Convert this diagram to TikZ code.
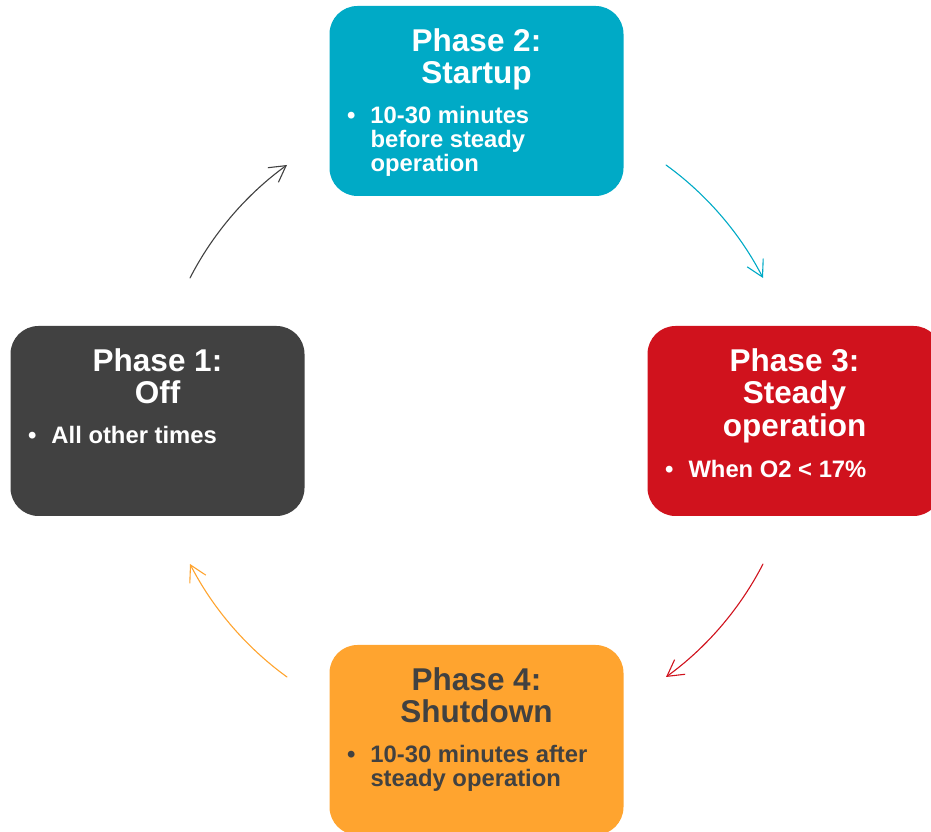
\documentclass[tikz,border=0pt]{standalone}
\usepackage{fontspec}
\setmainfont{Liberation Sans}
\usetikzlibrary{positioning,arrows.meta}
\definecolor{offgray}{HTML}{414141}
\definecolor{startteal}{HTML}{00AAC6}
\definecolor{steadyred}{HTML}{D0121D}
\definecolor{shutorange}{HTML}{FFA42F}
\tikzset{
	phase/.style={rounded corners=28pt,minimum width=294pt,minimum height=190pt,inner sep=0pt},
	phasetitle/.style={inner sep=0pt,align=center,font=\bfseries\fontsize{31.5}{32.5}\selectfont},
	phaseitem/.style={inner sep=0pt,align=left,font=\bfseries\fontsize{23.8}{24.2}\selectfont},
	cycle/.style={line width=1.1pt,line cap=round,-{Straight Barb[length=16pt,width=18pt]}}
}
\newcommand{\bul}{\llap{\textbullet\hspace{15pt}}}
\begin{document}
\begin{tikzpicture}[x=1pt,y=1pt]
		\useasboundingbox (0,0) rectangle (931,832);
		\node[phase,fill=offgray] (off) at (157.5,411) {};
		\node[phase,fill=startteal] (start) at (476.5,731) {};
		\node[phase,fill=steadyred] (steady) at (794.5,411) {};
		\node[phase,fill=shutorange] (shut) at (476.5,92) {};
		\node[phasetitle,text=white,below=22.5pt of off.north] (offtitle) {Phase 1:\\Off};
		\node[phasetitle,text=white,below=22.5pt of start.north] (starttitle) {Phase 2:\\Startup};
		\node[phasetitle,text=white,below=22.5pt of steady.north] (steadytitle) {Phase 3:\\Steady\\operation};
		\node[phasetitle,text=offgray,below=22.5pt of shut.north] (shuttitle) {Phase 4:\\Shutdown};
		\node[phaseitem,text=white,below right=100pt and 41pt of off.north west] (offitem) {\bul All other times};
		\node[phaseitem,text=white,below right=100pt and 41pt of start.north west] (startitem) {\bul 10-30 minutes\\before steady\\operation};
		\node[phaseitem,text=white,below right=134.5pt and 41pt of steady.north west] (steadyitem) {\bul When O2 < 17\%};
		\node[phaseitem,text=offgray,below right=100pt and 41pt of shut.north west] (shutitem) {\bul 10-30 minutes after\\steady operation};
		\coordinate (offout) at (190,554); \coordinate (startin) at (287,667);
		\coordinate (startout) at (666,667); \coordinate (steadyin) at (763,554);
		\coordinate (steadyout) at (763,268); \coordinate (shutin) at (666,155);
		\coordinate (shutout) at (287,155); \coordinate (offin) at (190,268);
		\draw[cycle,offgray] (offout) to[bend left=13.5,looseness=0.86] (startin);
		\draw[cycle,startteal] (startout) to[bend left=13.5,looseness=0.86] (steadyin);
		\draw[cycle,steadyred] (steadyout) to[bend left=13.5,looseness=0.86] (shutin);
		\draw[cycle,shutorange] (shutout) to[bend left=13.5,looseness=0.86] (offin);
\end{tikzpicture}
\end{document}
